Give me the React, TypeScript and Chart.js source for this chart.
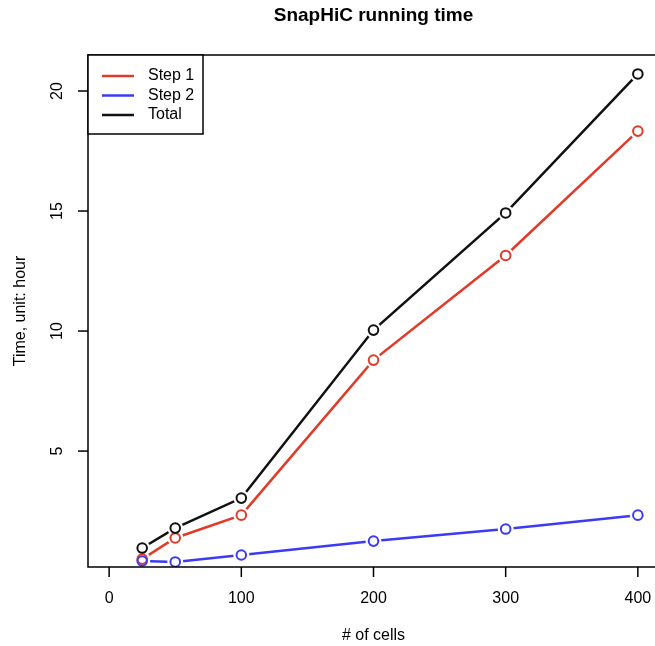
import React, { useEffect, useRef } from "react";
import { Chart, registerables } from "chart.js";

Chart.register(...registerables);

const cells = [25, 50, 100, 200, 300, 400];
const step1 = [0.5, 1.38, 2.33, 8.79, 13.15, 18.33];
const step2 = [0.42, 0.38, 0.67, 1.25, 1.75, 2.33];
const total = [0.96, 1.79, 3.04, 10.04, 14.92, 20.71];

const xTicks = [0, 100, 200, 300, 400];
const yTicks = [5, 10, 15, 20];

const seriesNames = ["Step 1", "Step 2", "Total"];
const seriesColors = ["#E23A28", "#3B3BF5", "#111111"];

const titleText = "SnapHiC running time";
const xLabel = "# of cells";
const yLabel = "Time, unit: hour";

const FONT = '"Liberation Sans", Arial, Helvetica, sans-serif';

const rPlotPlugin = {
  id: "rPlot",
  afterDraw(chart: any) {
    const { ctx, chartArea } = chart;
    const xs = chart.scales.x;
    const ys = chart.scales.y;
    const { left, right, top, bottom } = chartArea;
    ctx.save();
    ctx.strokeStyle = "#000";
    ctx.fillStyle = "#000";
    ctx.lineWidth = 1.5;
    // box
    ctx.strokeRect(left, top, right - left, bottom - top);
    // x ticks
    ctx.font = `16px ${FONT}`;
    ctx.textAlign = "center";
    ctx.textBaseline = "middle";
    xTicks.forEach((v) => {
      const px = xs.getPixelForValue(v);
      ctx.beginPath();
      ctx.moveTo(px, bottom);
      ctx.lineTo(px, bottom + 10);
      ctx.stroke();
      ctx.fillText(String(v), px, bottom + 32);
    });
    // y ticks
    yTicks.forEach((v) => {
      const py = ys.getPixelForValue(v);
      ctx.beginPath();
      ctx.moveTo(left, py);
      ctx.lineTo(left - 10, py);
      ctx.stroke();
      ctx.save();
      ctx.translate(left - 30, py);
      ctx.rotate(-Math.PI / 2);
      ctx.fillText(String(v), 0, 0);
      ctx.restore();
    });
    // title
    const cx = (left + right) / 2;
    ctx.font = `bold 19px ${FONT}`;
    ctx.fillText(titleText, cx, 16);
    // x label
    ctx.font = `16px ${FONT}`;
    ctx.fillText(xLabel, cx, 636);
    // y label
    ctx.save();
    ctx.translate(21, (top + bottom) / 2);
    ctx.rotate(-Math.PI / 2);
    ctx.fillText(yLabel, 0, 0);
    ctx.restore();
    // legend
    ctx.fillStyle = "#fff";
    ctx.fillRect(left, top, 115, 79);
    ctx.strokeRect(left, top, 115, 79);
    ctx.textAlign = "left";
    seriesNames.forEach((name, i) => {
      const y = top + 21 + i * 19.5;
      ctx.strokeStyle = seriesColors[i];
      ctx.lineWidth = 2.5;
      ctx.beginPath();
      ctx.moveTo(left + 14, y);
      ctx.lineTo(left + 46, y);
      ctx.stroke();
      ctx.fillStyle = "#000";
      ctx.fillText(name, left + 60, y);
    });
    ctx.restore();
  },
};

export default function App() {
  const ref = useRef<HTMLCanvasElement>(null);
  useEffect(() => {
    if (!ref.current) return;
    const series = [step1, step2, total];
    const lineSets: any[] = [];
    const haloSets: any[] = [];
    const ringSets: any[] = [];
    series.forEach((vals, i) => {
      const data = cells.map((c, j) => ({ x: c, y: vals[j] }));
      lineSets.push({
        label: seriesNames[i],
        data,
        borderColor: seriesColors[i],
        borderWidth: 2.5,
        pointRadius: 0,
        tension: 0,
        fill: false,
        order: 10 + i,
        clip: 0,
      });
      haloSets.push({
        label: seriesNames[i] + " halo",
        data,
        showLine: false,
        pointRadius: 8,
        pointBorderWidth: 0,
        pointBackgroundColor: "#fff",
        pointBorderColor: "#fff",
        order: 5,
        clip: 0,
      });
      ringSets.push({
        label: seriesNames[i] + " pts",
        data,
        showLine: false,
        pointRadius: 4.8,
        pointBorderWidth: 2,
        pointBackgroundColor: "rgba(0,0,0,0)",
        pointBorderColor: seriesColors[i],
        order: 3 - i,
        clip: 0,
      });
    });
    const chart = new Chart(ref.current, {
      type: "line",
      data: { datasets: [...lineSets, ...haloSets, ...ringSets] },
      options: {
        responsive: false,
        animation: false,
        events: [],
        layout: { autoPadding: false, padding: { left: 88, top: 55, right: 1, bottom: 79 } },
        scales: {
          x: { type: "linear", min: -16, max: 416, display: false },
          y: { type: "linear", min: 0.17, max: 21.5, display: false },
        },
        plugins: {
          legend: { display: false },
          title: { display: false },
          tooltip: { enabled: false },
        },
      },
      plugins: [rPlotPlugin],
    });
    return () => chart.destroy();
  }, []);
  return (
    <div
      style={{
        position: "fixed",
        left: 0,
        top: 0,
        width: 655,
        height: 646,
        overflow: "hidden",
        background: "#fff",
      }}
    >
      <canvas ref={ref} width={660} height={646} style={{ display: "block", width: 660, height: 646 }} />
    </div>
  );
}
